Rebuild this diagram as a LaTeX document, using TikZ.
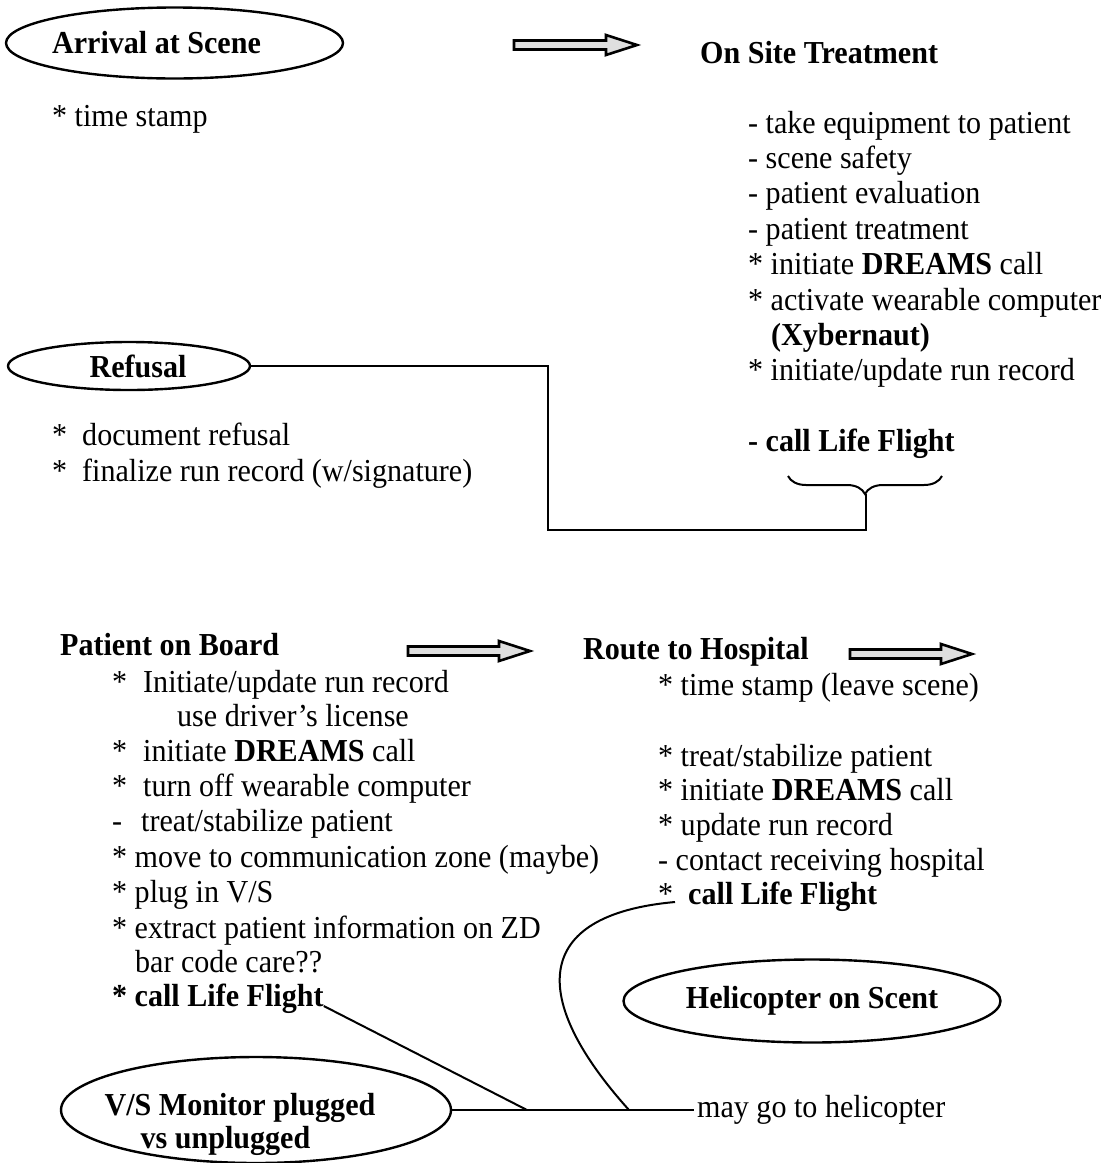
\documentclass[tikz,border=0pt]{standalone}
\usepackage{fontspec}
\setmainfont{Liberation Serif}[FakeStretch=0.94]
\usetikzlibrary{shapes.geometric,decorations.pathreplacing}
\newcommand\blockarrow[3]{%
  \draw[line width=2.6pt, fill=gray!25, line join=miter]
    (#1,#3-4.5) -- (#2-31,#3-4.5) -- (#2-31,#3-10) -- (#2,#3)
    -- (#2-31,#3+10) -- (#2-31,#3+4.5) -- (#1,#3+4.5) -- cycle;}
\begin{document}
\begin{tikzpicture}[x=1pt,y=-1pt,
  txt/.style={anchor=base west, inner sep=0pt, font=\fontsize{32}{35}\selectfont},
  btxt/.style={txt, font=\fontsize{32}{35}\selectfont\bfseries},
  oval/.style={draw, ellipse, line width=2.4pt, inner sep=0pt,
     font=\fontsize{32}{35}\selectfont\bfseries, align=center},
  conn/.style={line width=2.4pt}]
\useasboundingbox (0,0) rectangle (1110,1163);

% ---------- top left
\node[oval, minimum width=337, minimum height=71] (arr) at (174.5,43)
  {\makebox[0pt]{\hspace*{-36pt}Arrival at Scene}};
\node[txt] (ts) at (52,126) {* time stamp};

\blockarrow{514}{637}{45}

% ---------- on site treatment
\node[btxt] (ost) at (700,63) {On Site Treatment};
\node[txt] (o1) at (748,133)   {- take equipment to patient};
\node[txt] (o2) at (748,168.4) {- scene safety};
\node[txt] (o3) at (748,203.8) {- patient evaluation};
\node[txt] (o4) at (748,239.2) {- patient treatment};
\node[txt] (o5) at (748,274.6) {* initiate \textbf{DREAMS} call};
\node[txt] (o6) at (748,310)   {* activate wearable computer};
\node[txt] (o7) at (771,345.4) {\textbf{(Xybernaut)}};
\node[txt] (o8) at (748,380.8) {* initiate/update run record};
\node[btxt] (lf1) at (748,451) {- call Life Flight};

% ---------- refusal
\node[oval, minimum width=242, minimum height=48] (rf) at (129,366)
  {\makebox[0pt]{\hspace*{18pt}Refusal}};
\node[txt] (r1) at (52,445) {*\hspace{15pt}document refusal};
\node[txt] (r2) at (52,481) {*\hspace{15pt}finalize run record (w/signature)};

\coordinate (bl) at (788,476);
\coordinate (br) at (942,476);
\coordinate (btip) at (866,494);
\coordinate (c1) at (548,530);
\draw[line width=2pt, decorate, decoration={brace, mirror, amplitude=18pt}] (bl) -- (br);
\draw[conn] (rf.east) -| (c1) -| (btip);

% ---------- patient on board
\node[btxt] (pob) at (60,655) {Patient on Board};
\blockarrow{408}{530}{651}
\node[btxt] (rth) at (583,659) {Route to Hospital};
\blockarrow{850}{972}{654}

\node[txt] (p1) at (112,692) {*\hspace{16pt}Initiate/update run record};
\node[txt] (p2) at (177,726) {use driver's license};
\node[txt] (p3) at (112,761) {*\hspace{16pt}initiate \textbf{DREAMS} call};
\node[txt] (p4) at (112,796) {*\hspace{16pt}turn off wearable computer};
\node[txt] (p5) at (112,831) {-\hspace{19pt}treat/stabilize patient};
\node[txt] (p6) at (112,867) {* move to communication zone (maybe)};
\node[txt] (p7) at (112,902) {* plug in V/S};
\node[txt] (p8) at (112,938) {* extract patient information on ZD};
\node[txt] (p9) at (135,972) {bar code care??};
\node[btxt] (lf2) at (112,1006) {* call Life Flight};

% ---------- route to hospital list
\node[txt] (h1) at (658,695) {* time stamp (leave scene)};
\node[txt] (h2) at (658,766) {* treat/stabilize patient};
\node[txt] (h3) at (658,800) {* initiate \textbf{DREAMS} call};
\node[txt] (h4) at (658,835) {* update run record};
\node[txt] (h5) at (658,870) {- contact receiving hospital};
\node[txt] (lf3) at (658,904) {*\hspace{15pt}\textbf{call Life Flight}};

% ---------- bottom ovals
\node[oval, minimum width=377, minimum height=83] (heli) at (812,1001) {Helicopter on Scent};
\node[oval, minimum width=390, minimum height=106] (vs) at (256,1110) {};
\node[font=\fontsize{32}{33}\selectfont\bfseries, align=left, inner sep=0pt] (vst) at (240,1124)
   {V/S Monitor plugged\\\hspace*{36pt}vs unplugged};

\node[anchor=west, inner sep=0pt, inner xsep=3pt, font=\fontsize{32}{35}\selectfont] (mg) at (694,1110) {may go to helicopter};

\coordinate (j1) at (527,1110);
\coordinate (j2) at (629,1110);
\draw[conn] (vs.east) -- (mg.west);
\draw[line width=2pt] (lf2.base east) -- (j1);
\draw[line width=2pt] ([shift={(17,-2)}]lf3.base west) .. controls (530,915) and (530,1000) .. (j2);
\end{tikzpicture}
\end{document}
